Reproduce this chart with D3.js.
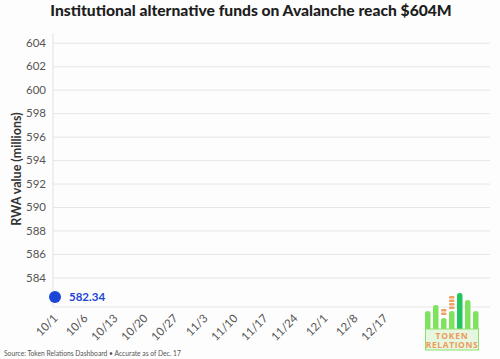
<!DOCTYPE html>
<html><head><meta charset="utf-8">
<script src="https://cdn.jsdelivr.net/npm/d3@7"></script>
<style>
html,body{margin:0;padding:0;background:#fdfdfd;}
svg{display:block;font-family:"Open Sans","Noto Sans",sans-serif;}
</style></head>
<body><svg id="chart" width="500" height="359"></svg>
<script>
const dateLabels = ["10/1","10/6","10/13","10/20","10/27","11/3","11/10","11/17","11/24","12/1","12/8","12/17"];
const seriesDates = ["10/1"];
const seriesValues = [582.34];
const yTicks = [584,586,588,590,592,594,596,598,600,602,604];
const title = "Institutional alternative funds on Avalanche reach $604M";
const yTitle = "RWA value (millions)";
const source = "Source: Token Relations Dashboard • Accurate as of Dec. 17";

(function(){
const svg = d3.select("#chart");
const mL = 53, mR = 490, mT = 33, mB = 307;

const x = d3.scalePoint().domain(dateLabels).range([55, 385]);
const y = d3.scaleLinear().domain([581.48, 604.83]).range([mB, mT]);

function fit(sel, w){
  const fs = +sel.attr("font-size");
  const len = sel.node().getComputedTextLength();
  sel.attr("font-size", fs * w / len);
}

svg.append("rect").attr("width",500).attr("height",359).attr("fill","#fdfdfd");

// title
const t = svg.append("text").attr("x",251).attr("y",16).attr("text-anchor","middle")
  .attr("font-family","Lato, sans-serif")
  .attr("font-size",16).attr("font-weight",900).attr("fill","#1e1e1e").text(title);
fit(t, 402);

// gridlines
const yAxis = d3.axisLeft(y).tickValues(yTicks).tickSize(-(mR-mL)).tickPadding(7);
const gy = svg.append("g").attr("transform",`translate(${mL},0)`).call(yAxis);
gy.select(".domain").remove();
gy.selectAll(".tick line").attr("stroke","#e6e6e6").attr("stroke-width",1);
gy.selectAll(".tick text").attr("font-size",11.5).attr("fill","#555").attr("font-family","Lato, sans-serif");

// left axis line and bottom line
svg.append("line").attr("x1",mL).attr("x2",mL).attr("y1",mT).attr("y2",mB).attr("stroke","#e2e2e2");
svg.append("line").attr("x1",mL).attr("x2",mR).attr("y1",mB).attr("y2",mB).attr("stroke","#e6e6e6");

// x axis labels
const xAxis = d3.axisBottom(x).tickSize(0).tickPadding(0);
const gx = svg.append("g").attr("transform",`translate(0,${mB})`).call(xAxis);
gx.select(".domain").remove();
gx.selectAll(".tick text")
  .attr("font-size",11.5).attr("fill","#555").attr("font-family","Lato, sans-serif")
  .attr("text-anchor","end").attr("dy",0)
  .attr("transform","translate(3,12) rotate(-45)");

// y title
svg.append("text").attr("transform","translate(21,169) rotate(-90)")
  .attr("text-anchor","middle").attr("font-family","Lato, sans-serif")
  .attr("font-size",12.5).attr("font-weight",700).attr("fill","#333").text(yTitle);

// data points
const pts = seriesDates.map((d,i)=>({d, v:seriesValues[i]}));
svg.selectAll("circle.pt").data(pts).join("circle").attr("class","pt")
  .attr("cx",d=>x(d.d)).attr("cy",d=>y(d.v)).attr("r",6).attr("fill","#1c46d6");
svg.selectAll("text.pl").data(pts).join("text").attr("class","pl")
  .attr("x",d=>x(d.d)+14).attr("y",d=>y(d.v)+4).attr("font-family","Lato, sans-serif")
  .attr("font-size",11.5).attr("font-weight",700)
  .attr("fill","#1c46d6").text(d=>d.v.toFixed(2));

// source
const s = svg.append("text").attr("x",4).attr("y",356).attr("font-family","Lato, sans-serif")
  .attr("font-size",8).attr("fill","#555").text(source);
fit(s, 177);

// logo
const logo = svg.append("g");
const bars = [[425,311,"#7ee35c"],[433,305,"#7ee35c"],[441,318,"#7ee35c"],[449,311,"#7ee35c"],[457,293,"#22c55e"],[465,300,"#7ee35c"],[473,311,"#7ee35c"]];
bars.forEach(b=>{
  logo.append("rect").attr("x",b[0]).attr("y",b[1]).attr("width",5.5).attr("height",331-b[1]).attr("rx",2.5).attr("fill",b[2]);
});
[[441,309],[441,312.5],[449,296],[449,299.5],[449,303],[449,306.5]].forEach(c=>{
  logo.append("rect").attr("x",c[0]).attr("y",c[1]).attr("width",5.5).attr("height",2.6).attr("rx",1.2).attr("fill","#f0a060");
});
logo.append("rect").attr("x",425.5).attr("y",329).attr("width",53).attr("height",21).attr("fill","#e6f7df").attr("stroke","#8ee06c").attr("stroke-width",1);
logo.append("text").attr("x",452).attr("y",338.5).attr("text-anchor","middle").attr("font-size",8.5).attr("font-weight",700).attr("fill","#ee9a5a").attr("letter-spacing",0.8).text("TOKEN");
logo.append("text").attr("x",452).attr("y",348).attr("text-anchor","middle").attr("font-size",8.5).attr("font-weight",700).attr("fill","#ee9a5a").attr("letter-spacing",0.6).text("RELATIONS");
})();
</script></body></html>
